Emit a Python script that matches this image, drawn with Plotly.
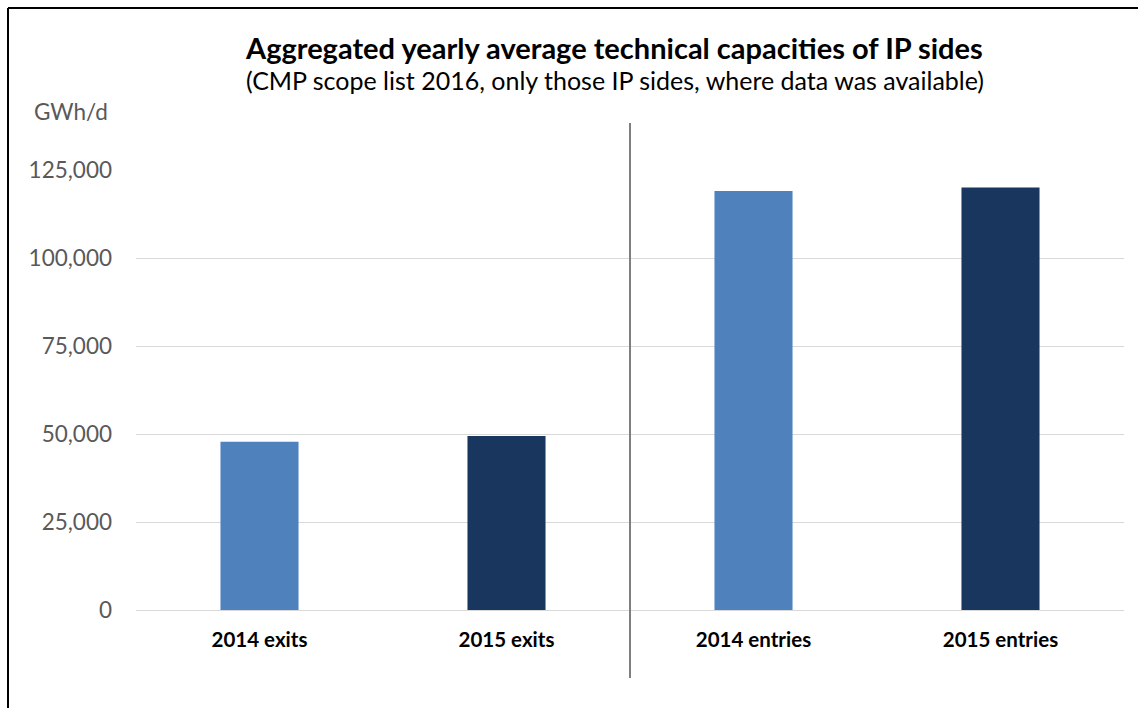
import plotly.graph_objects as go

# Aggregated yearly average technical capacities (GWh/d)
categories = ["2014 exits", "2015 exits", "2014 entries", "2015 entries"]
capacities = [47800, 49400, 119000, 120000]
bar_colors = ["#4f81bd", "#19375e", "#4f81bd", "#19375e"]
y_ticks = [0, 25000, 50000, 75000, 100000, 125000]
y_tick_labels = ["0", "25,000", "50,000", "75,000", "100,000", "125,000"]

title_text = "Aggregated yearly average technical capacities of IP sides"
subtitle_text = "(CMP scope list 2016, only those IP sides, where data was available)"
unit_text = "GWh/d"

W, H = 1138, 708
L, R, T, B = 136, 14, 170, 98
pw, ph = W - L - R, H - T - B


def px_x(x):
    return (x - L) / pw


def px_y(y):
    return (H - B - y) / ph


FONT = "Lato"

fig = go.Figure(
    go.Bar(
        x=categories,
        y=capacities,
        marker=dict(color=bar_colors, line=dict(width=0)),
        hoverinfo="x+y",
    )
)

fig.update_layout(
    width=W,
    height=H,
    margin=dict(l=L, r=R, t=T, b=B),
    paper_bgcolor="white",
    plot_bgcolor="white",
    bargap=0.684,
    showlegend=False,
    font=dict(family=FONT),
)

fig.update_xaxes(
    showgrid=False,
    showline=False,
    zeroline=False,
    ticks="",
    tickfont=dict(family=FONT, size=20.5, color="#000000", weight="bold"),
    ticklabelstandoff=15,
)

fig.update_yaxes(
    range=[0, 125000],
    tickvals=y_ticks,
    ticktext=y_tick_labels,
    showgrid=True,
    gridcolor="#d9d9d9",
    gridwidth=1,
    zeroline=True,
    zerolinecolor="#d9d9d9",
    zerolinewidth=1,
    showline=False,
    ticks="",
    tickfont=dict(family=FONT, size=22.5, color="#595959"),
    ticklabelstandoff=23,
)

shapes = [
    # separator between exits and entries
    dict(type="line", xref="x", yref="paper", x0=1.5, x1=1.5,
         y0=px_y(678), y1=px_y(123), line=dict(color="#7f7f7f", width=2)),
    # frame: left and top edges
    dict(type="line", xref="paper", yref="paper", x0=px_x(8), x1=px_x(8),
         y0=px_y(H + 2), y1=px_y(8), line=dict(color="#000000", width=2)),
    dict(type="line", xref="paper", yref="paper", x0=px_x(8), x1=px_x(W + 2),
         y0=px_y(8), y1=px_y(8), line=dict(color="#000000", width=2)),
]
fig.update_layout(shapes=shapes)

annotations = [
    dict(text=f"<b>{title_text}</b>", x=px_x(614), y=px_y(47), xref="paper", yref="paper",
         showarrow=False, xanchor="center", yanchor="middle",
         font=dict(family=FONT, size=29, color="#000000")),
    dict(text=subtitle_text, x=px_x(615), y=px_y(80), xref="paper", yref="paper",
         showarrow=False, xanchor="center", yanchor="middle",
         font=dict(family=FONT, size=25, color="#000000")),
    dict(text=unit_text, x=px_x(71), y=px_y(111), xref="paper", yref="paper",
         showarrow=False, xanchor="center", yanchor="middle",
         font=dict(family=FONT, size=22.5, color="#595959")),
]
fig.update_layout(annotations=annotations)

fig.write_html("out.html")
